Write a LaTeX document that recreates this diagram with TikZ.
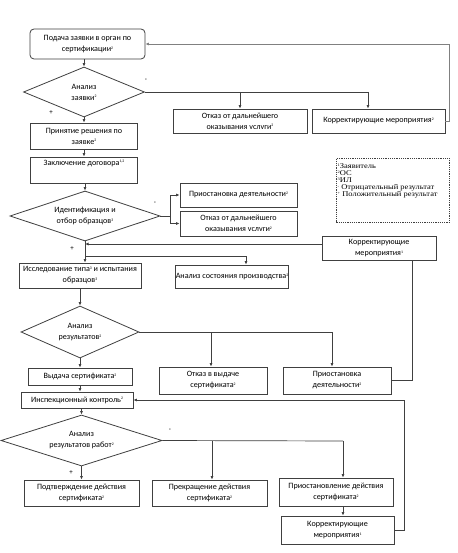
\documentclass[tikz,border=0pt]{standalone}
\usepackage{fontspec}
\setmainfont{Carlito}
\newfontfamily\legendfont[FakeStretch=1.16]{Liberation Serif}
\usetikzlibrary{shapes.geometric,arrows.meta}
\definecolor{linec}{HTML}{404040}
\definecolor{linel}{HTML}{808080}
\newcommand\supx[1]{\raisebox{0.6ex}{\fontsize{3.8}{3.8}\selectfont #1}}
\begin{document}
\begin{tikzpicture}[x=1pt,y=-1pt,
  line/.style={draw=linec, line width=0.7pt},
  arr/.style={line, -{Latex[length=3.5pt,width=3pt]}},
  box/.style={draw=linec, line width=0.8pt, inner sep=0pt, align=center,
    font=\fontsize{8.1}{11}\selectfont},
  dia/.style={draw=linec, line width=0.8pt, shape=diamond, inner sep=0pt},
  txt/.style={inner sep=0pt, align=center, font=\fontsize{8.1}{11}\selectfont},
  sign/.style={inner sep=0pt, font=\fontsize{7}{7}\selectfont}
]
\useasboundingbox (0,0) rectangle (457,553);
\fill[white] (0,0) rectangle (457,553);

% ---- nodes ----
\node[box, rounded corners=4pt, minimum width=115, minimum height=30] (box1) at (87.5,44) {Подача заявки в орган по\\сертификации\supx{2}};
\node[dia, minimum width=121, minimum height=50] (d1) at (84,92) {};
\node[txt] at (d1) {Анализ\\заявки\supx{2}};
\node[box, minimum width=134, minimum height=24] (otk1) at (240,121) {Отказ от дальнейшего\\оказывания vслvги\supx{2}};
\node[box, minimum width=133, minimum height=24] (kor1) at (378.5,121) {Корректирующие мероприятия\supx{2}};
\node[box, minimum width=107, minimum height=26] (prin) at (84,136) {Принятие решения по\\заявке\supx{2}};
\node[box, minimum width=107, minimum height=26] (zakl) at (84,170) {};
\node[txt, anchor=north] at ([yshift=-3pt]zakl.north) {Заключение договора\supx{1,2}};
\node[dia, minimum width=150, minimum height=50] (d2) at (85,216) {};
\node[txt] at (d2) {Идентификация и\\отбор образцов\supx{3}};
\node[box, minimum width=117, minimum height=24] (pri1) at (238.5,195) {Приостановка деятельности\supx{2}};
\node[box, minimum width=117, minimum height=25] (otk2) at (238.5,223.5) {Отказ от дальнейшего\\оказывания vслvги\supx{2}};
\node[box, minimum width=114, minimum height=24] (kor2) at (379,248) {Корректирующие\\мероприятия\supx{1}};
\node[box, minimum width=122, minimum height=25] (issl) at (80,275.5) {Исследование типа\supx{3} и испытания\\образцов\supx{3}};
\node[box, minimum width=102, minimum height=23] (anal) at (232,276.5) {Анализ состояния производства\supx{2}};
\node[dia, minimum width=118, minimum height=52] (d3) at (80,332) {};
\node[txt] at (d3) {Анализ\\результатов\supx{2}};
\node[box, minimum width=108, minimum height=27] (otk3) at (213,380.5) {Отказ в выдаче\\сертификата\supx{2}};
\node[box, minimum width=108, minimum height=27] (pri2) at (337,380.5) {Приостановка\\деятельности\supx{2}};
\node[box, minimum width=104, minimum height=17] (vyd) at (80,376.5) {Выдача сертификата\supx{2}};
\node[box, minimum width=112, minimum height=16] (insp) at (77,400) {Инспекционный контроль\supx{2}};
\node[dia, minimum width=161, minimum height=51] (d4) at (81.5,440.5) {};
\node[txt] at (d4) {Анализ\\результатов работ\supx{2}};
\node[box, minimum width=115, minimum height=26] (podt) at (81.5,493) {Подтверждение действия\\сертификата\supx{2}};
\node[box, minimum width=115, minimum height=26] (prek) at (209.5,493) {Прекращение действия\\сертификата\supx{2}};
\node[box, minimum width=114, minimum height=28] (pris) at (336,492) {Приостановление действия\\сертификата\supx{2}};
\node[box, minimum width=113, minimum height=28] (kor3) at (337.5,530) {Корректирующие\\мероприятия\supx{1}};

% legend
\node[draw=linec, line width=0.6pt, dash pattern=on 1.2pt off 1pt, minimum width=113, minimum height=64, anchor=north west, inner sep=0pt] (leg) at (336,158) {};
\node[anchor=north west, inner sep=0pt, align=left, font=\legendfont\fontsize{7.3}{6.9}\selectfont] (legt) at (337.5,163.5) {\supx{1}Заявитель\\\supx{2}ОС\\\supx{3}ИЛ\\\supx{-} Отрицательный результат\\\supx{+} Положительный результат};

% signs
\node[sign] (m1) at (146,80) {-};
\node[sign] (p1) at (51,113) {+};
\node[sign] (m2) at (155,203) {-};
\node[sign] (p2) at (72,249) {+};
\node[sign] (m4) at (170,430) {-};
\node[sign] (p4) at (71,473) {+};

% junction coordinates
\coordinate (j1a) at (240,92);
\coordinate (j1b) at (368,92);
\coordinate (r1) at (449,44);
\coordinate (s2) at (170,216);
\coordinate (k2in) at (322,244);
\coordinate (a1) at (246,256);
\coordinate (k2b) at (412,0);
\coordinate (j3a) at (211,332);
\coordinate (j3b) at (332,332);
\coordinate (j4a) at (212,441);
\coordinate (j4b) at (343,441);
\coordinate (r4) at (404,400);

% ---- connectors ----
\draw[arr] (box1.south -| d1.north) -- (d1.north);
\draw[line] (d1.east) -- (j1b);
\draw[arr] (j1a) -- (otk1.north);
\draw[arr] (j1b) -- (j1b |- kor1.north);
\draw[arr, draw=linel] (kor1.east) -| (r1) -- (box1.east);
\draw[arr] (d1.south) -- (prin.north);
\draw[arr] (prin.south) -- (zakl.north);
\draw[arr] (zakl.south -| d2.north) -- (d2.north);
\draw[line] (d2.east) -- (s2);
\draw[arr] (s2) |- (pri1.west);
\draw[arr] (s2) |- (otk2.west);
\draw[arr] (d2.south) -- (d2.south |- issl.north);
\draw[arr] (k2in) -- (d2.south |- k2in);
\draw[line] (d2.south |- a1) -- (a1);
\draw[arr] (a1) -- (a1 |- anal.north);
\draw[line] (pri2.east) -| (k2b |- kor2.south);
\draw[arr] (issl.south) -- (d3.north);
\draw[line] (d3.east) -- (j3b);
\draw[arr] (j3a) -- (j3a |- otk3.north);
\draw[arr] (j3b) -- (j3b |- pri2.north);
\draw[arr] (d3.south) -- (vyd.north);
\draw[arr] (vyd.south) -- (vyd.south |- insp.north);
\draw[arr] (d4.north |- insp.south) -- (d4.north);
\draw[line] (d4.east) -- (j4b);
\draw[arr] (j4a) -- (j4a |- prek.north);
\draw[arr] (j4b) -- (j4b |- pris.north);
\draw[arr] (d4.south) -- (podt.north);
\draw[arr] (pris.south -| j4b) -- (j4b |- kor3.north);
\draw[arr] (kor3.east) -| (r4) -- (insp.east);
\end{tikzpicture}
\end{document}
